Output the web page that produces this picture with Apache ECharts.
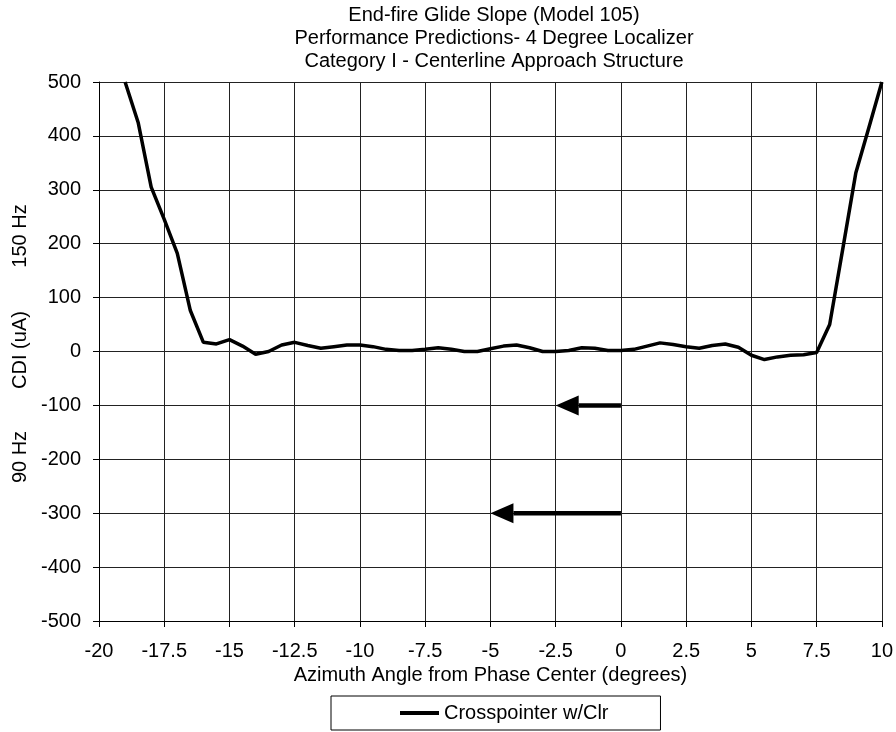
<!DOCTYPE html>
<html>
<head>
<meta charset="utf-8">
<script src="https://cdn.jsdelivr.net/npm/echarts@6/dist/echarts.min.js"></script>
<style>html,body{margin:0;padding:0;background:#fff;}#c{width:896px;height:732px;}</style>
</head>
<body>
<div id="c"></div>
<script>
// Azimuth angles (degrees)
var azimuth = [-19,-18.5,-18,-17.5,-17,-16.5,-16,-15.5,-15,-14.5,-14,-13.5,-13,-12.5,-12,-11.5,-11,-10.5,-10,-9.5,-9,-8.5,-8,-7.5,-7,-6.5,-6,-5.5,-5,-4.5,-4,-3.5,-3,-2.5,-2,-1.5,-1,-0.5,0,0.5,1,1.5,2,2.5,3,3.5,4,4.5,5,5.5,6,6.5,7,7.5,8,8.5,9,9.5,10];
// CDI (uA) for "Crosspointer w/Clr"
var cdi = [500,425,305,245,182,76,17,14,22,10,-5,0,12,17,11,6,9,12,12,9,4,2,2,4,7,4,0,0,5,10,12,7,0,0,2,7,6,2,2,4,10,16,13,9,6,11,14,8,-7,-15,-10,-7,-6,-2,50,190,331,415,500];
// Arrows: [start x, y, tip x]
var arrowStartX = [0, 0];
var arrowY = [-100, -300];
var arrowTipX = [-2.5, -5];
var xTicks = {min: -20, max: 10, step: 2.5};
var yTicks = {min: -500, max: 500, step: 100};
var titleLines = ['End-fire Glide Slope (Model 105)', 'Performance Predictions- 4 Degree Localizer', 'Category I - Centerline Approach Structure'];
var seriesName = 'Crosspointer w/Clr';

var FONT = 'Liberation Sans, Arial, sans-serif';
var lineData = azimuth.map(function (x, i) { return [x, cdi[i]]; });
var arrowData = arrowY.map(function (y, i) { return [arrowStartX[i], y, arrowTipX[i]]; });

var chart = echarts.init(document.getElementById('c'), null, {renderer: 'canvas'});
chart.setOption({
  backgroundColor: '#fff',
  animation: false,
  textStyle: {fontFamily: FONT, color: '#000'},
  grid: {left: 99, right: 12, top: 82, bottom: 111, containLabel: false},
  graphic: [
    {type: 'text', x: 494, y: 4, style: {text: titleLines.join('\n'), align: 'center', verticalAlign: 'top', font: '20px ' + FONT, lineHeight: 23, fill: '#000'}},
    {type: 'text', x: 20, y: 236, rotation: Math.PI / 2, style: {text: '150 Hz', align: 'center', verticalAlign: 'middle', font: '20px ' + FONT, fill: '#000'}},
    {type: 'text', x: 20, y: 350, rotation: Math.PI / 2, style: {text: 'CDI (uA)', align: 'center', verticalAlign: 'middle', font: '20px ' + FONT, fill: '#000'}},
    {type: 'text', x: 20, y: 457, rotation: Math.PI / 2, style: {text: '90 Hz', align: 'center', verticalAlign: 'middle', font: '20px ' + FONT, fill: '#000'}}
  ],
  legend: {
    data: [seriesName],
    left: 331, top: 696,
    padding: [7, 52, 7, 69],
    borderColor: '#000', borderWidth: 1, borderRadius: 0,
    icon: 'rect', itemWidth: 39, itemHeight: 4,
    textStyle: {fontSize: 20, color: '#000', fontFamily: FONT},
    selectedMode: false
  },
  xAxis: {
    type: 'value', min: xTicks.min, max: xTicks.max, interval: xTicks.step,
    name: 'Azimuth Angle from Phase Center (degrees)', nameLocation: 'middle', nameGap: 41,
    nameTextStyle: {fontSize: 20, color: '#000', fontFamily: FONT},
    axisLine: {show: true, onZero: false, lineStyle: {color: '#000', width: 1}},
    axisTick: {show: true, inside: false, length: 6, lineStyle: {color: '#000'}},
    axisLabel: {fontSize: 20, color: '#000', margin: 20, fontFamily: FONT},
    splitLine: {show: true, lineStyle: {color: '#222', width: 1}}
  },
  yAxis: {
    type: 'value', min: yTicks.min, max: yTicks.max, interval: yTicks.step,
    axisLine: {show: true, onZero: false, lineStyle: {color: '#000', width: 1}},
    axisTick: {show: true, inside: false, length: 6, lineStyle: {color: '#000'}},
    axisLabel: {fontSize: 20, color: '#000', margin: 18, fontFamily: FONT},
    splitLine: {show: true, lineStyle: {color: '#222', width: 1}}
  },
  series: [
    {
      name: seriesName, type: 'line', data: lineData, showSymbol: false, symbol: 'none',
      lineStyle: {color: '#000', width: 3.5}, itemStyle: {color: '#000'}, clip: true, z: 3
    },
    {
      name: 'arrows', type: 'custom', data: arrowData, z: 4,
      renderItem: function (params, api) {
        var p0 = api.coord([api.value(0), api.value(1)]);
        var p1 = api.coord([api.value(2), api.value(1)]);
        var headLen = 23, headHalf = 10;
        var dir = p1[0] < p0[0] ? -1 : 1;
        var baseX = p1[0] - dir * headLen;
        return {
          type: 'group',
          children: [
            {type: 'line', shape: {x1: p0[0], y1: p0[1], x2: baseX, y2: p1[1]}, style: {stroke: '#000', lineWidth: 4.5}},
            {type: 'polygon', shape: {points: [[p1[0], p1[1]], [baseX, p1[1] - headHalf], [baseX, p1[1] + headHalf]]}, style: {fill: '#000'}}
          ]
        };
      }
    }
  ]
});
</script>
</body>
</html>
